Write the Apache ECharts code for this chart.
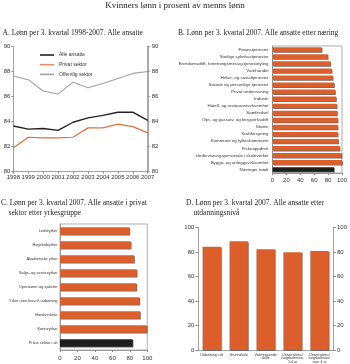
<!DOCTYPE html>
<html><head><meta charset="utf-8">
<script src="https://cdn.jsdelivr.net/npm/echarts@6/dist/echarts.min.js"></script>
<style>html,body{margin:0;padding:0;background:#fff}#c{width:350px;height:364px}</style>
</head><body><div id="c"></div>
<script>
// Panel A
const years = ['1998','1999','2000','2001','2002','2003','2004','2005','2006','2007'];
const alleAnsatte = [83.65,83.4,83.45,83.3,83.95,84.3,84.5,84.75,84.75,84.1];
const privatSektor = [81.9,82.75,82.7,82.7,82.75,83.5,83.5,83.8,83.6,83.1];
const offentligSektor = [87.65,87.35,86.45,86.2,87.15,86.7,87.05,87.45,87.85,88.0];
// Panel B
const naeringer = ['Finanstjenester','Statlige sykehustjenester','Eiendomsdrift, forretningsmessig tjenesteyting','Varehandel','Helse- og sosialtjenester','Sosiale og personlige tjenester','Privat undervisning','Industri','Hotell- og restaurantvirksomhet','Samferdsel','Olje- og gassutv. og bergverksdrift','Staten','Kraftforsyning','Kommune og fylkeskommune','Fiskeoppdrett','Undervisningspersonale i skoleverket','Bygge- og anleggsvirksomhet','Næringer totalt'];
const naeringVerdier = [70.7,79.4,83.2,85.1,86.6,88.5,89.9,91.4,92.3,92.8,93.8,93.8,93.8,94.7,96.6,99.3,100,88.5];
// Panel C
const yrker = ['Lederyrker','Høgskoleyrker','Akademiske yrker','Salgs- og serviceyrker','Operatører og sjåfører','Yrker uten krav til utdanning','Håndverkere','Kontoryrker','Privat sektor i alt'];
const yrkeVerdier = [79.4,81,84.8,87.8,87.5,90.9,91.6,99.3,83.2];
// Panel D
const utdanning = ['Utdanning i alt','Grunnskole','Videregående\nskole','Universitets-/\nhøgskolenivå,\n1-4 år','Universitets-/\nhøgskolenivå,\nover 4 år'];
const utdanningVerdier = [84.3,88.7,82.2,79.8,80.8];

const ORANGE = '#dc5f2b';
const BLACK = '#1e1e1e';
const AX = '#8a8a8a';
const SANS = 'Liberation Sans';
const SERIF = 'Liberation Serif';

function barData(vals){
  return vals.map((v,i)=> i===vals.length-1 ? {value:v,itemStyle:{color:BLACK}} : v);
}
const barShadow = {shadowColor:'rgba(60,60,60,0.75)',shadowOffsetX:0.8,shadowOffsetY:0.8,shadowBlur:0};

const chart = echarts.init(document.getElementById('c'), null, {renderer:'canvas'});
const lbl = (fs, extra) => Object.assign({fontFamily:SANS, fontSize:fs, color:'#333'}, extra||{});
const tStyle = {fontFamily:SERIF,fontSize:7.5,lineHeight:9.4,fontWeight:'normal',color:'#222'};

chart.setOption({
  animation:false,
  backgroundColor:'#fff',
  title:[
    {text:'Kvinners lønn i prosent av menns lønn', left:'center', top:1.5, padding:0, textStyle:{fontFamily:SERIF,fontSize:9,fontWeight:'normal',color:'#222'}},
    {text:'A. Lønn per 3. kvartal 1998-2007. Alle ansatte', left:2.5, top:28.5, padding:0, textStyle:tStyle},
    {text:'B. Lønn per 3. kvartal 2007. Alle ansatte etter næring', left:178, top:28.5, padding:0, textStyle:tStyle},
    {text:'C. Lønn per 3. kvartal 2007. Alle ansatte i privat\n    sektor etter yrkesgruppe', left:1, top:198.5, padding:0, textStyle:tStyle},
    {text:'D. Lønn per 3. kvartal 2007. Alle ansatte etter\n    utdanningsnivå', left:186, top:198.5, padding:0, textStyle:tStyle}
  ],
  legend:{
    show:true, orient:'vertical', left:40, top:52, padding:0, itemWidth:14, itemHeight:1.6, itemGap:3.7,
    icon:'rect', textStyle:{fontFamily:SANS,fontSize:5,color:'#333',lineHeight:6},
    data:['Alle ansatte','Privat sektor','Offentlig sektor']
  },
  grid:[
    {left:13.3, top:46.5, width:134.4, height:125.2},
    {left:272.5, top:46, width:69.5, height:127, show:true, borderColor:'#999', borderWidth:0.8},
    {left:60, top:224, width:87.3, height:126, show:true, borderColor:'#999', borderWidth:0.8},
    {left:198.3, top:227.5, width:137.7, height:122.5}
  ],
  xAxis:[
    {type:'category', gridIndex:0, data:years, boundaryGap:false,
     axisLine:{lineStyle:{color:AX,width:0.8}}, axisTick:{show:true,length:2,lineStyle:{color:AX}},
     axisLabel:lbl(6,{margin:3, interval:0})},
    {type:'value', gridIndex:1, min:0, max:100, interval:20, splitLine:{show:false},
     axisLine:{show:true,lineStyle:{color:AX,width:0.8}}, axisTick:{show:true,length:2,lineStyle:{color:AX}},
     axisLabel:lbl(6,{margin:4})},
    {type:'value', gridIndex:2, min:0, max:100, interval:20, splitLine:{show:false},
     axisLine:{show:true,lineStyle:{color:AX,width:0.8}}, axisTick:{show:true,length:2,lineStyle:{color:AX}},
     axisLabel:lbl(6,{margin:5})},
    {type:'category', gridIndex:3, data:utdanning,
     axisLine:{lineStyle:{color:AX,width:0.8}}, axisTick:{show:false},
     axisLabel:lbl(3.6,{margin:3, interval:0, lineHeight:3.6})}
  ],
  yAxis:[
    {type:'value', gridIndex:0, min:80, max:90, interval:2, splitLine:{show:false},
     axisLine:{show:true,lineStyle:{color:AX,width:0.8}}, axisTick:{show:true,length:2,lineStyle:{color:AX}},
     axisLabel:lbl(6,{margin:3})},
    {type:'value', gridIndex:0, position:'right', min:80, max:90, interval:2, splitLine:{show:false},
     axisLine:{show:true,lineStyle:{color:'#aaa',width:2}}, axisTick:{show:true,length:2,lineStyle:{color:AX}},
     axisLabel:lbl(6,{margin:4})},
    {type:'category', gridIndex:1, data:naeringer, inverse:true,
     axisLine:{show:true,lineStyle:{color:AX,width:0.8}}, axisTick:{show:false},
     axisLabel:lbl(4.4,{margin:4, interval:0})},
    {type:'category', gridIndex:2, data:yrker, inverse:true,
     axisLine:{show:true,lineStyle:{color:AX,width:0.8}}, axisTick:{show:false},
     axisLabel:lbl(3.9,{margin:2.5, interval:0})},
    {type:'value', gridIndex:3, min:0, max:100, interval:20, splitLine:{show:false},
     axisLine:{show:true,lineStyle:{color:AX,width:0.8}}, axisTick:{show:true,length:3,lineStyle:{color:AX}},
     axisLabel:lbl(6,{margin:4})},
    {type:'value', gridIndex:3, position:'right', min:0, max:100, interval:20, splitLine:{show:false},
     axisLine:{show:true,lineStyle:{color:AX,width:0.8}}, axisTick:{show:true,length:3,lineStyle:{color:AX}},
     axisLabel:lbl(6,{margin:4})}
  ],
  series:[
    {name:'Alle ansatte', type:'line', xAxisIndex:0, yAxisIndex:0, data:alleAnsatte, symbol:'none',
     lineStyle:{color:'#222',width:1.4}, itemStyle:{color:'#222'}},
    {name:'Privat sektor', type:'line', xAxisIndex:0, yAxisIndex:0, data:privatSektor, symbol:'none',
     lineStyle:{color:'#e2703d',width:1.2}, itemStyle:{color:'#e8906a'}},
    {name:'Offentlig sektor', type:'line', xAxisIndex:0, yAxisIndex:0, data:offentligSektor, symbol:'none',
     lineStyle:{color:'#a0a0a0',width:1.1}, itemStyle:{color:'#a0a0a0'}},
    {type:'bar', xAxisIndex:1, yAxisIndex:2, data:barData(naeringVerdier), barWidth:4.6,
     itemStyle:Object.assign({color:ORANGE}, barShadow)},
    {type:'bar', xAxisIndex:2, yAxisIndex:3, data:barData(yrkeVerdier), barWidth:7.6,
     itemStyle:Object.assign({color:ORANGE}, barShadow)},
    {type:'bar', xAxisIndex:3, yAxisIndex:4, data:utdanningVerdier, barWidth:18.4,
     itemStyle:Object.assign({color:ORANGE}, barShadow)}
  ]
});
</script></body></html>
